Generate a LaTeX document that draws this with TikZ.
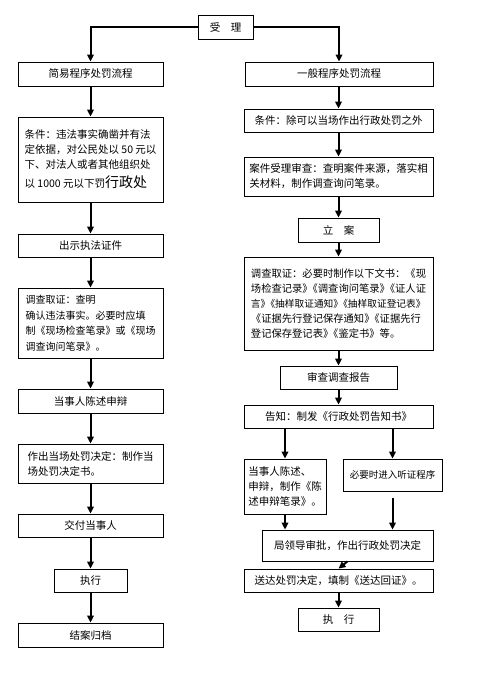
\documentclass[tikz,border=0pt]{standalone}
\usepackage{fontspec}
\setmainfont{Noto Sans CJK SC}
\usetikzlibrary{arrows.meta}
\newcommand\pk{\hspace{-0.5em}}
\begin{document}
\begin{tikzpicture}[x=1pt,y=-1pt,
  box/.style={draw,line width=0.8pt,inner sep=0pt,font=\fontsize{10.5}{15}\selectfont,align=center},
  lbox/.style={box,align=left},
  arr/.style={line width=2pt,-{Triangle[length=7pt,width=6.5pt]}}]
\useasboundingbox (0,0) rectangle (477,698);
% top
\node[box,minimum width=55pt,minimum height=24pt] (shouli) at (225.5,27) {受\quad 理};
% left column
\node[box,minimum width=145pt,minimum height=24pt] (L1) at (90.5,74) {简易程序处罚流程};
\node[lbox,minimum width=145pt,minimum height=85pt] (L2) at (90.5,159.5)
 {条件：违法事实确凿并有法\\定依据，对公民处以 50 元以\\下、对法人或者其他组织处\\[4pt]以 1000 元以下罚{\fontsize{14}{15}\selectfont 行政处}};
\node[box,minimum width=145pt,minimum height=23pt] (L3) at (90.5,245.5) {出示执法证件};
\node[lbox,minimum width=145pt,minimum height=70pt,font=\fontsize{10}{15.5}\selectfont] (L4) at (90.5,323)
 {调查取证：查明\\确认违法事实。必要时应填\\制《现场检查笔录》或《现场\\调查询问笔录》。};
\node[box,minimum width=145pt,minimum height=24pt] (L5) at (90.5,401) {当事人陈述申辩};
\node[lbox,minimum width=145pt,minimum height=39pt] (L6) at (90.5,463.5)
 {作出当场处罚决定：制作当\\场处罚决定书。};
\node[box,minimum width=145pt,minimum height=23pt] (L7) at (90.5,525.5) {交付当事人};
\node[box,minimum width=73pt,minimum height=23pt] (L8) at (90.5,580.5) {执行};
\node[box,minimum width=145pt,minimum height=24pt] (L9) at (90.5,635) {结案归档};
% right column
\node[box,minimum width=188pt,minimum height=24pt] (R1) at (339,74) {一般程序处罚流程};
\node[box,minimum width=189pt,minimum height=23pt] (R2) at (338.5,120.5) {条件：除可以当场作出行政处罚之外};
\node[lbox,minimum width=189pt,minimum height=39pt] (R3) at (338.5,176.5)
 {案件受理审查：查明案件来源，落实相\\关材料，制作调查询问笔录。};
\node[box,minimum width=81pt,minimum height=24pt] (R4) at (338.5,230) {立\quad 案};
\node[lbox,minimum width=189pt,minimum height=93pt,
  font=\fontsize{10.3}{15}\selectfont] (R5) at (338.5,303.5)
 {调查取证：必要时制作以下文书：《现\\
  场检查记录》\pk《调查询问笔录》\pk《证人证\\
  {\fontsize{9.7}{15}\selectfont 言》\pk《抽样取证通知》\pk《抽样取证登记表》}\\
  《证据先行登记保存通知》\pk《证据先行\\
  登记保存登记表》\pk《鉴定书》等。};
\node[box,minimum width=117pt,minimum height=23pt] (R6) at (338.5,377.5) {审查调查报告};
\node[box,minimum width=189pt,minimum height=23pt] (R7) at (338.5,416.5) {告知：制发《行政处罚告知书》};
\node[lbox,minimum width=82pt,minimum height=55pt] (R8a) at (285,486.5)
 {当事人陈述、\\申辩，制作《陈\\述申辩笔录》。};
\node[box,minimum width=99pt,minimum height=32pt,font=\fontsize{9.5}{14}\selectfont] (R8b) at (392.5,475) {必要时进入听证程序};
\node[box,minimum width=171pt,minimum height=31pt] (R9) at (347.5,545.5) {局领导审批，作出行政处罚决定};
\node[box,minimum width=189pt,minimum height=23pt] (R10) at (338.5,580.5) {送达处罚决定，填制《送达回证》。};
\node[box,minimum width=81pt,minimum height=23pt] (R11) at (338.5,619.5) {执\quad 行};
% connectors
\draw[arr] (shouli.west) -| (L1.north);
\draw[arr] (shouli.east) -| (R1.north);
\draw[arr] (L1.south) -- (L2.north);
\draw[arr] (L2.south) -- (L3.north);
\draw[arr] (L3.south) -- (L4.north);
\draw[arr] (L4.south) -- (L5.north);
\draw[arr] (L5.south) -- (L6.north);
\draw[arr] (L6.south) -- (L7.north);
\draw[arr] (L7.south) -- (L8.north);
\draw[arr] (L8.south) -- (L9.north);
\draw[arr] (R1.south -| R2.north) -- (R2.north);
\draw[arr] (R2.south) -- (R3.north);
\draw[arr] (R3.south) -- (R4.north);
\draw[arr] (R4.south) -- (R5.north);
\draw[arr] (R5.south) -- (R6.north);
\draw[arr] (R6.south) -- (R7.north);
\draw[arr] (R7.south -| R8a.north) -- (R8a.north);
\draw[arr] (R7.south -| R8b.north) -- (R8b.north);
\draw[arr] (R8a.south) -- (R8a.south |- R9.north);
\draw[arr] ([yshift=-7pt]R8b.south) -- (R8b.south |- R9.north);
\draw[arr] (R9.south) -- (R10.north);
\draw[arr] (R10.south) -- (R11.north);
\end{tikzpicture}
\end{document}
